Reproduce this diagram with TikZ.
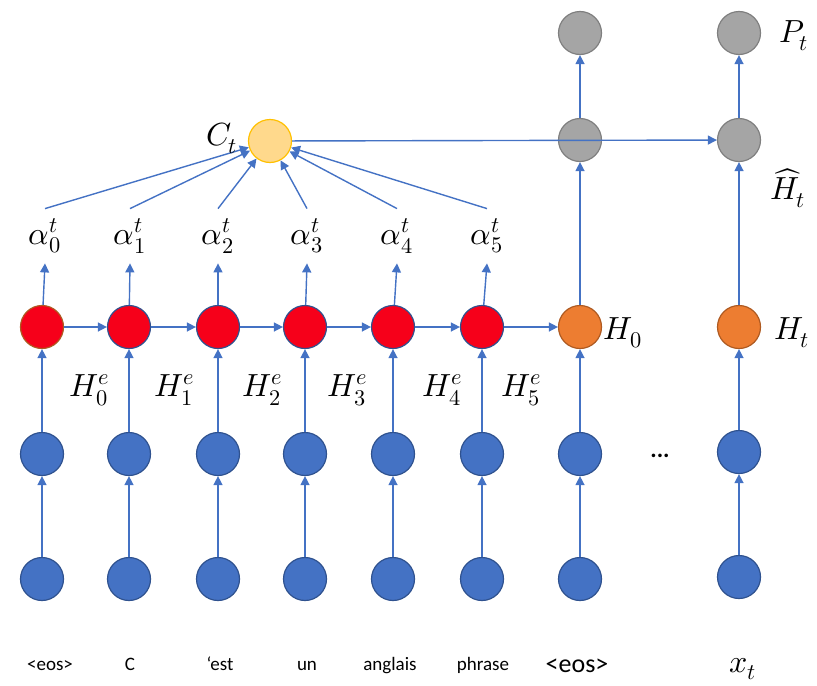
\documentclass[tikz,border=0pt]{standalone}
\usepackage{fontspec}
\usepackage{unicode-math}
\setmathfont{Latin Modern Math}
\setsansfont{Carlito}
\usepackage{xcolor}
\usepackage{tikz}
\usetikzlibrary{arrows.meta}

\definecolor{linkblue}{HTML}{4472C4}
\definecolor{embblue}{HTML}{4472C4}
\definecolor{embedge}{HTML}{2F528F}
\definecolor{encred}{RGB}{246,0,26}
\definecolor{decorange}{HTML}{ED7D31}
\definecolor{decedge}{HTML}{AE5A21}
\definecolor{outgray}{HTML}{A5A5A5}
\definecolor{outedge}{HTML}{7F7F7F}
\definecolor{ctxfill}{RGB}{255,217,140}
\definecolor{ctxedge}{HTML}{FFC000}

\tikzset{
  unit/.style={circle,minimum size=21.5pt,inner sep=0pt,line width=0.6pt},
  embed/.style={unit,fill=embblue,draw=embedge},
  enc/.style={unit,fill=encred,draw=embedge},
  dec/.style={unit,fill=decorange,draw=decedge},
  outp/.style={unit,fill=outgray,draw=outedge},
  ctx/.style={unit,fill=ctxfill,draw=ctxedge},
  arr/.style={draw=linkblue,line width=0.7pt,-{Triangle[length=4.5pt,width=4.5pt]}},
  lab/.style={font=\fontsize{16}{19}\selectfont},
  word/.style={anchor=base,font=\sffamily\fontsize{9.5}{11}\selectfont}
}

\begin{document}
\begin{tikzpicture}[x=0.5pt,y=-0.5pt]
    \useasboundingbox (0,0) rectangle (817,685);
    % input words
    \node[embed] (x0) at (42,579) {};
    \node[embed] (x1) at (129,579) {};
    \node[embed] (x2) at (218,579) {};
    \node[embed] (x3) at (305,579) {};
    \node[embed] (x4) at (393,579) {};
    \node[embed] (x5) at (482,579) {};
    \node[embed] (x6) at (580,579) {};
    \node[embed] (x7) at (739,577) {};
    %
    \node[embed] (e0) at (42,454) {};
    \node[embed] (e1) at (129,454) {};
    \node[embed] (e2) at (218,454) {};
    \node[embed] (e3) at (305,454) {};
    \node[embed] (e4) at (393,454) {};
    \node[embed] (e5) at (482,454) {};
    \node[embed] (e6) at (580,454) {};
    \node[embed] (e7) at (739,452) {};
    %
    \node[enc,draw=decedge] (h0) at (42,327) {};
    \node[enc] (h1) at (129,327) {};
    \node[enc] (h2) at (218,327) {};
    \node[enc] (h3) at (305,327) {};
    \node[enc] (h4) at (393,327) {};
    \node[enc] (h5) at (482,327) {};
    \node[dec] (d0) at (580,327) {};
    \node[dec] (dt) at (739,327) {};
    %
    \node[outp] (g0) at (580,140) {};
    \node[outp] (gt) at (739,140) {};
    \node[outp] (p0) at (580,33) {};
    \node[outp] (pt) at (739,33) {};
    \node[ctx] (c) at (270,141) {};
    %
    \node[lab,minimum height=27pt,inner sep=0pt] (a0) at (45,236) {$\alpha_0^t$};
    \node[lab,minimum height=27pt,inner sep=0pt] (a1) at (130,236) {$\alpha_1^t$};
    \node[lab,minimum height=27pt,inner sep=0pt] (a2) at (218,236) {$\alpha_2^t$};
    \node[lab,minimum height=27pt,inner sep=0pt] (a3) at (307,236) {$\alpha_3^t$};
    \node[lab,minimum height=27pt,inner sep=0pt] (a4) at (397,236) {$\alpha_4^t$};
    \node[lab,minimum height=27pt,inner sep=0pt] (a5) at (487,236) {$\alpha_5^t$};
    %
    \draw[arr] (x0) -- (e0);
    \draw[arr] (x1) -- (e1);
    \draw[arr] (x2) -- (e2);
    \draw[arr] (x3) -- (e3);
    \draw[arr] (x4) -- (e4);
    \draw[arr] (x5) -- (e5);
    \draw[arr] (x6) -- (e6);
    \draw[arr] (x7) -- (e7);
    \draw[arr] (e0) -- (h0);
    \draw[arr] (e1) -- (h1);
    \draw[arr] (e2) -- (h2);
    \draw[arr] (e3) -- (h3);
    \draw[arr] (e4) -- (h4);
    \draw[arr] (e5) -- (h5);
    \draw[arr] (e6) -- (d0);
    \draw[arr] (e7) -- (dt);
    \draw[arr] (h0) -- (h1);
    \draw[arr] (h1) -- (h2);
    \draw[arr] (h2) -- (h3);
    \draw[arr] (h3) -- (h4);
    \draw[arr] (h4) -- (h5);
    \draw[arr] (h5) -- (d0);
    \draw[arr] (h0) -- (a0.south);
    \draw[arr] (h1) -- (a1.south);
    \draw[arr] (h2) -- (a2.south);
    \draw[arr] (h3) -- (a3.south);
    \draw[arr] (h4) -- (a4.south);
    \draw[arr] (h5) -- (a5.south);
    \draw[arr] (a0.north) -- (c);
    \draw[arr] (a1.north) -- (c);
    \draw[arr] (a2.north) -- (c);
    \draw[arr] (a3.north) -- (c);
    \draw[arr] (a4.north) -- (c);
    \draw[arr] (a5.north) -- (c);
    \draw[arr] (d0) -- (g0);
    \draw[arr] (g0) -- (p0);
    \draw[arr] (dt) -- (gt);
    \draw[arr] (gt) -- (pt);
    \draw[arr] (c) -- (gt);
    %
    \node[lab] (lc) at (222,138) {$C_t$};
    \node[lab] (le0) at (90,390) {$H_0^e$};
    \node[lab] (le1) at (175,390) {$H_1^e$};
    \node[lab] (le2) at (263,390) {$H_2^e$};
    \node[lab] (le3) at (348,390) {$H_3^e$};
    \node[lab] (le4) at (443,390) {$H_4^e$};
    \node[lab] (le5) at (522,390) {$H_5^e$};
    \node[lab] (ld0) at (623,333) {$H_0$};
    \node[lab] (ldt) at (792,333) {$H_t$};
    \node[lab] (lgt) at (788,188) {$\widehat{H}_t$};
    \node[lab] (lpt) at (794,36) {$P_t$};
    \node[font=\sffamily\bfseries\fontsize{12}{14}\selectfont] (dots) at (660,456) {...};
    %
    \node[word] (w0) at (50,670) {<eos>};
    \node[word] (w1) at (130,670) {C};
    \node[word] (w2) at (220,670) {‘est};
    \node[word] (w3) at (307,670) {un};
    \node[word] (w4) at (390,670) {anglais};
    \node[word] (w5) at (483,670) {phrase};
    \node[word,font=\sffamily\fontsize{13}{15}\selectfont] (w6) at (577,672) {<eos>};
    \node[lab,anchor=base] (w7) at (743,672) {$x_t$};
\end{tikzpicture}
\end{document}
